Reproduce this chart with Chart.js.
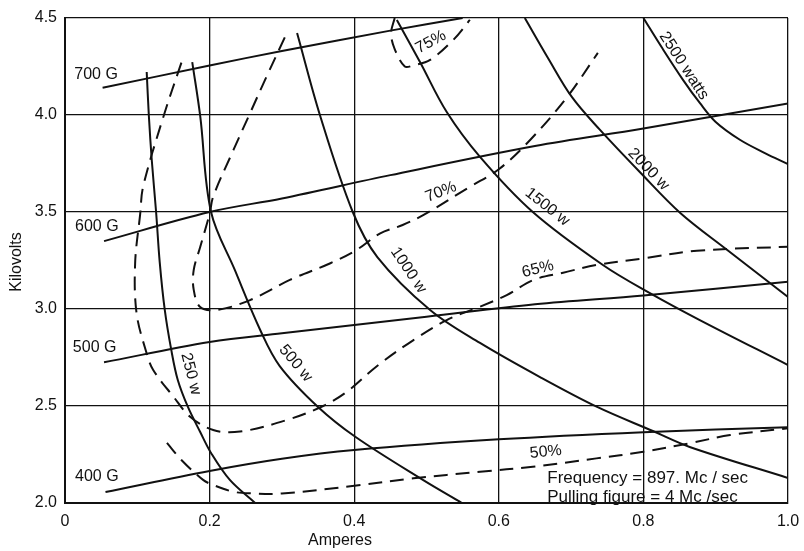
<!DOCTYPE html>
<html>
<head>
<meta charset="utf-8">
<script src="https://cdn.jsdelivr.net/npm/chart.js@4"></script>
<style>
  html, body { margin: 0; background: #fff; }
  #wrap { width: 804px; height: 551px; }
</style>
</head>
<body>
<div id="wrap"><canvas id="chart"></canvas></div>
<script>
// magnet field lines (amperes, kilovolts)
const g700 = [[0.052, 4.14], [0.2, 4.255], [0.3, 4.33], [0.45, 4.435], [0.55, 4.5]];
const g600 = [[0.054, 3.35], [0.2, 3.5], [0.3, 3.57], [0.45, 3.69], [0.65, 3.84], [0.8, 3.93], [1.0, 4.06]];
const g500 = [[0.054, 2.725], [0.2, 2.83], [0.3, 2.875], [0.5, 2.96], [0.65, 3.025], [0.8, 3.07], [1.0, 3.14]];
const g400 = [[0.056, 2.057], [0.2, 2.165], [0.3, 2.228], [0.4, 2.273], [0.6, 2.328], [0.8, 2.365], [1.0, 2.39]];

// output power lines
const w250 = [[0.113, 4.222], [0.116, 3.995], [0.12, 3.768], [0.126, 3.5], [0.131, 3.242], [0.138, 2.995], [0.147, 2.789],
  [0.156, 2.634], [0.17, 2.495], [0.187, 2.366], [0.202, 2.258], [0.228, 2.119], [0.263, 2.0]];
const w500 = [[0.176, 4.273], [0.187, 3.995], [0.202, 3.5], [0.235, 3.2], [0.27, 2.892], [0.297, 2.706], [0.35, 2.495],
  [0.402, 2.34], [0.495, 2.119], [0.549, 2.0]];
const w1000 = [[0.321, 4.423], [0.353, 3.995], [0.398, 3.5], [0.432, 3.268], [0.505, 2.995], [0.574, 2.825], [0.657, 2.649],
  [0.736, 2.495], [0.813, 2.371], [0.864, 2.289], [1.0, 2.129]];
const w1500 = [[0.459, 4.49], [0.491, 4.273], [0.528, 4.015], [0.574, 3.784], [0.647, 3.5], [0.744, 3.227], [0.809, 3.082],
  [0.878, 2.943], [1.0, 2.711]];
const w2000 = [[0.636, 4.5], [0.668, 4.294], [0.701, 4.093], [0.74, 3.923], [0.795, 3.706], [0.851, 3.495], [0.916, 3.304],
  [0.975, 3.134], [1.0, 3.062]];
const w2500 = [[0.8, 4.5], [0.826, 4.345], [0.855, 4.18], [0.878, 4.062], [0.9, 3.964], [0.934, 3.871], [0.968, 3.804], [1.0, 3.747]];

// efficiency contours (dashed)
const e75 = [[0.456, 4.5], [0.451, 4.42], [0.456, 4.34], [0.47, 4.25], [0.481, 4.255], [0.505, 4.284], [0.537, 4.387], [0.56, 4.49]];
const e70 = [[0.304, 4.4], [0.279, 4.2], [0.256, 4.01], [0.233, 3.82], [0.205, 3.58], [0.2, 3.49], [0.187, 3.32], [0.178, 3.2],
  [0.178, 3.1], [0.187, 3.01], [0.21, 2.995], [0.256, 3.046], [0.311, 3.15], [0.367, 3.236], [0.403, 3.304], [0.436, 3.39],
  [0.467, 3.433], [0.496, 3.485], [0.56, 3.63], [0.6, 3.72], [0.643, 3.87], [0.694, 4.09], [0.737, 4.32]];
const e65 = [[0.161, 4.27], [0.136, 3.99], [0.108, 3.63], [0.104, 3.49], [0.097, 3.236], [0.099, 2.978], [0.113, 2.771],
  [0.122, 2.686], [0.15, 2.548], [0.173, 2.445], [0.205, 2.376], [0.242, 2.368], [0.307, 2.428], [0.357, 2.5], [0.39, 2.574],
  [0.433, 2.71], [0.482, 2.84], [0.528, 2.943], [0.574, 3.012], [0.611, 3.072], [0.648, 3.15], [0.689, 3.187], [0.735, 3.227],
  [0.8, 3.261], [0.874, 3.3], [1.0, 3.321]];
const e50 = [[0.141, 2.31], [0.161, 2.222], [0.191, 2.119], [0.207, 2.09], [0.233, 2.058], [0.256, 2.05], [0.3, 2.049],
  [0.403, 2.09], [0.482, 2.127], [0.574, 2.161], [0.647, 2.187], [0.735, 2.23], [0.8, 2.264], [0.864, 2.308], [0.92, 2.35], [1.0, 2.385]];

const curveLabels = [
  { text: "700 G", a: 0.043, kv: 4.206, rot: 0 },
  { text: "600 G", a: 0.044, kv: 3.423, rot: 0 },
  { text: "500 G", a: 0.041, kv: 2.799, rot: 0 },
  { text: "400 G", a: 0.044, kv: 2.134, rot: 0 },
  { text: "250 w", a: 0.174, kv: 2.665, rot: 76 },
  { text: "500 w", a: 0.319, kv: 2.72, rot: 50 },
  { text: "1000 w", a: 0.475, kv: 3.2, rot: 56 },
  { text: "1500 w", a: 0.667, kv: 3.526, rot: 38 },
  { text: "2000 w", a: 0.807, kv: 3.72, rot: 46 },
  { text: "2500 watts", a: 0.856, kv: 4.253, rot: 57 },
  { text: "75%", a: 0.506, kv: 4.376, rot: -28 },
  { text: "70%", a: 0.52, kv: 3.603, rot: -22 },
  { text: "65%", a: 0.654, kv: 3.206, rot: -14 },
  { text: "50%", a: 0.665, kv: 2.263, rot: -6 }
];
const notes = ["Frequency = 897. Mc / sec", "Pulling figure = 4 Mc /sec"];

const FONT = "'Liberation Sans', 'DejaVu Sans', sans-serif";
const INK = "#111";

function line(points, dashed) {
  return {
    data: points.map(p => ({ x: p[0], y: p[1] })),
    showLine: true,
    borderColor: INK,
    borderWidth: 2,
    borderDash: dashed ? [14, 8] : [],
    pointRadius: 0,
    tension: 0.35,
    fill: false
  };
}

const textPlugin = {
  id: "chartText",
  afterDatasetsDraw(chart) {
    const { ctx, scales: { x, y }, chartArea } = chart;
    ctx.save();
    ctx.fillStyle = INK;
    ctx.font = "16px " + FONT;
    ctx.textAlign = "center";
    ctx.textBaseline = "middle";
    curveLabels.forEach(l => {
      ctx.save();
      ctx.translate(x.getPixelForValue(l.a), y.getPixelForValue(l.kv));
      ctx.rotate(l.rot * Math.PI / 180);
      ctx.fillText(l.text, 0, 0);
      ctx.restore();
    });

    ctx.font = "17px " + FONT;
    ctx.textAlign = "left";
    ctx.fillText(notes[0], x.getPixelForValue(0.667), y.getPixelForValue(2.129));
    ctx.fillText(notes[1], x.getPixelForValue(0.667), y.getPixelForValue(2.031));

    // axis titles
    ctx.font = "16px " + FONT;
    ctx.textAlign = "center";
    ctx.fillText("Amperes", 340, 541);
    ctx.translate(17, 262);
    ctx.rotate(-Math.PI / 2);
    ctx.fillText("Kilovolts", 0, 0);
    ctx.restore();
  }
};

new Chart(document.getElementById("chart"), {
  type: "scatter",
  data: {
    datasets: [
      line(g700), line(g600), line(g500), line(g400),
      line(w250), line(w500), line(w1000), line(w1500), line(w2000), line(w2500),
      line(e75, true), line(e70, true), line(e65, true), line(e50, true)
    ]
  },
  options: {
    responsive: true,
    maintainAspectRatio: false,
    animation: false,
    layout: { padding: { top: 18, right: 16, left: 0, bottom: 0 } },
    plugins: {
      legend: { display: false },
      tooltip: { enabled: false }
    },
    scales: {
      x: {
        type: "linear",
        min: 0,
        max: 1,
        afterFit: s => {
          s.height = 48;
          s.paddingLeft = 0;
          s.paddingRight = 0;
        },
        ticks: {
          stepSize: 0.2,
          maxRotation: 0,
          padding: 9,
          color: INK,
          font: { size: 16, family: FONT },
          callback: v => v === 0 ? "0" : v.toFixed(1)
        },
        grid: { color: INK, lineWidth: 1.3, drawTicks: false },
        border: { color: INK, width: 2 }
      },
      y: {
        min: 2,
        max: 4.5,
        afterFit: s => {
          s.width = 65;
          s.paddingTop = 0;
          s.paddingBottom = 0;
        },
        ticks: {
          stepSize: 0.5,
          padding: 8,
          color: INK,
          font: { size: 16, family: FONT },
          callback: v => v.toFixed(1)
        },
        grid: { color: INK, lineWidth: 1.3, drawTicks: false },
        border: { color: INK, width: 2 }
      }
    }
  },
  plugins: [textPlugin]
});
</script>
</body>
</html>
